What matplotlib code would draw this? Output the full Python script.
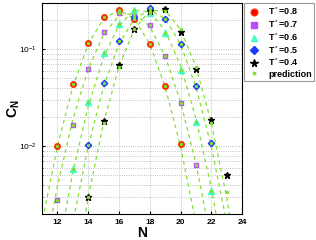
import matplotlib
matplotlib.use('Agg')
import matplotlib.pyplot as plt
import numpy as np

plt.rcParams['font.family'] = ['Liberation Sans', 'DejaVu Sans']
plt.rcParams['mathtext.fontset'] = 'custom'
plt.rcParams['mathtext.rm'] = 'Liberation Sans'
plt.rcParams['mathtext.bf'] = 'Liberation Sans:bold'

# measured cluster size distributions C_N for each T*
n_08 = [12, 13, 14, 15, 16, 17, 18, 19, 20]
c_08 = [0.0100, 0.0433, 0.117, 0.213, 0.253, 0.205, 0.113, 0.042, 0.0105]

n_07 = [12, 13, 14, 15, 16, 17, 18, 19, 20, 21]
c_07 = [0.0028, 0.0167, 0.0624, 0.150, 0.234, 0.232, 0.178, 0.085, 0.0281, 0.0064]

n_06 = [13, 14, 15, 16, 17, 18, 19, 20, 21, 22]
c_06 = [0.00577, 0.0283, 0.091, 0.182, 0.253, 0.238, 0.146, 0.0613, 0.0176, 0.00345]

n_05 = [14, 15, 16, 17, 18, 19, 20, 21, 22]
c_05 = [0.0103, 0.0448, 0.121, 0.216, 0.264, 0.203, 0.112, 0.042, 0.0107]

n_04 = [14, 15, 16, 17, 18, 19, 20, 21, 22, 23]
c_04 = [0.00297, 0.0184, 0.069, 0.162, 0.250, 0.258, 0.152, 0.0624, 0.0188, 0.00504]

# predicted curves (extended past the axes)
pn_08 = [10, 11, 12, 13, 14, 15, 16, 17, 18, 19, 20, 21, 22]
pc_08 = [0.00018, 0.00162, 0.0100, 0.0411, 0.1127, 0.2066, 0.253, 0.2066, 0.1127, 0.0411, 0.0100, 0.00162, 0.00018]

pn_07 = [10, 11, 12, 13, 14, 15, 16, 17, 18, 19, 20, 21, 22, 23]
pc_07 = [0.00005, 0.00054, 0.00386, 0.0188, 0.0624, 0.142, 0.221, 0.234, 0.171, 0.085, 0.0287, 0.0067, 0.00106, 0.0001]

pn_06 = [11, 12, 13, 14, 15, 16, 17, 18, 19, 20, 21, 22, 23, 24]
pc_06 = [0.00007, 0.00076, 0.00538, 0.0257, 0.083, 0.1756, 0.252, 0.242, 0.1556, 0.068, 0.0194, 0.00375, 0.00049, 0.00004]

pn_05 = [12, 13, 14, 15, 16, 17, 18, 19, 20, 21, 22, 23, 24]
pc_05 = [0.00018, 0.00162, 0.0100, 0.0411, 0.1127, 0.2066, 0.253, 0.2066, 0.1127, 0.0411, 0.0100, 0.00162, 0.00018]

pn_04 = [13, 14, 15, 16, 17, 18, 19, 20, 21, 22, 23, 24]
pc_04 = [0.00033, 0.00298, 0.0175, 0.0662, 0.1605, 0.250, 0.250, 0.1605, 0.0662, 0.0175, 0.00298, 0.00033]

# prediction values at the measured sizes (green dots)
dot_n = [n_08, n_07, n_06, n_05, n_04]
dot_c = [c_08, c_07, c_06, c_05, [0.00298, 0.0175, 0.0662, 0.1605, 0.250, 0.250, 0.1605, 0.0662, 0.0175, 0.0034]]

green = '#80e030'

fig = plt.figure(figsize=(3.16, 2.40), dpi=100)
ax = fig.add_axes([0.133, 0.108, 0.633, 0.88])

for pn, pc in [(pn_08, pc_08), (pn_07, pc_07), (pn_06, pc_06), (pn_05, pc_05), (pn_04, pc_04)]:
    ax.plot(pn, pc, '--', color=green, lw=0.9, dashes=(3, 3), zorder=2)

ms = 4
ax.plot(n_08, c_08, 'o', color='red', ms=ms, mec='#ff3000', label=r'T$^*$=0.8', zorder=3)
ax.plot(n_07, c_07, 's', color='#b84cff', ms=ms - 0.5, mec='#b84cff', label=r'T$^*$=0.7', zorder=3)
ax.plot(n_06, c_06, '^', color='#40ffc8', ms=ms, mec='#40ffc8', label=r'T$^*$=0.6', zorder=3)
ax.plot(n_05, c_05, 'D', color='#1a3cff', ms=ms - 0.8, mec='#1a3cff', label=r'T$^*$=0.5', zorder=3)
ax.plot(n_04, c_04, '*', color='black', ms=ms + 0.5, label=r'T$^*$=0.4', zorder=3)

for i, (dn, dc) in enumerate(zip(dot_n, dot_c)):
    ax.plot(dn, dc, '.', color=green, ms=3, zorder=4,
            label='prediction' if i == 0 else None)

ax.set_yscale('log')
ax.set_xlim(11, 24)
ax.set_ylim(0.002, 0.3)
ax.set_xticks([12, 14, 16, 18, 20, 22, 24])
ax.tick_params(axis='both', which='both', direction='in', labelsize=6, length=2)
ax.tick_params(which='minor', length=1)
for lab in ax.get_xticklabels():
    lab.set_fontweight('bold')
ax.grid(True, which='major', linestyle=':', color='#b0b0b0', lw=0.6)
ax.grid(True, which='minor', linestyle=':', color='#b0b0b0', lw=0.6)
for s in ax.spines.values():
    s.set_linewidth(0.8)

ax.set_xlabel(r'$\mathbf{N}$', fontsize=10, labelpad=0)
ax.set_ylabel(r'$\mathbf{C_N}$', fontsize=10)
ax.yaxis.set_label_coords(-0.1, 0.5)

leg = ax.legend(loc='upper left', bbox_to_anchor=(1.012, 1.0),
                prop={'weight': 'bold', 'size': 6.5}, fancybox=False,
                edgecolor='#808080', borderpad=0.3, labelspacing=0.12,
                handlelength=1.6, handletextpad=0.7, borderaxespad=0,
                markerscale=1.2)
leg.get_frame().set_linewidth(0.8)

fig.savefig('out.png', dpi=100)
